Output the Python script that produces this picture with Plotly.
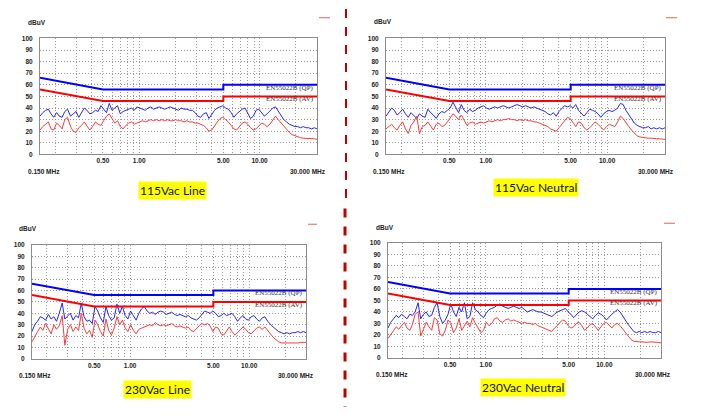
import plotly.graph_objects as go

W, H = 708, 416

# ---------------- data ----------------
freq_mhz = [0.150, 0.158, 0.167, 0.176, 0.185, 0.195, 0.206, 0.217, 0.229, 0.241,
            0.254, 0.269, 0.283, 0.299, 0.315, 0.332, 0.350, 0.369, 0.389, 0.410,
            0.433, 0.456, 0.481, 0.507, 0.535, 0.564, 0.595, 0.627, 0.661, 0.697,
            0.735, 0.775, 0.818, 0.862, 0.909, 0.958, 1.010, 1.065, 1.123, 1.184,
            1.249, 1.317, 1.388, 1.464, 1.543, 1.628, 1.716, 1.810, 1.908, 2.012,
            2.121, 2.237, 2.358, 2.487, 2.622, 2.765, 2.915, 3.074, 3.241, 3.418,
            3.604, 3.800, 4.007, 4.225, 4.455, 4.697, 4.953, 5.222, 5.506, 5.806,
            6.122, 6.455, 6.806, 7.177, 7.567, 7.979, 8.413, 8.871, 9.354, 9.863,
            10.40, 10.97, 11.56, 12.19, 12.86, 13.56, 14.29, 15.07, 15.89, 16.76,
            17.67, 18.63, 19.64, 20.71, 21.84, 23.03, 24.28, 25.60, 26.99, 28.46,
            30.00]

limit_freq = [0.15, 0.5, 5.0, 5.0, 30.0]
qp_limit = [66, 56, 56, 60, 60]
av_limit = [56, 46, 46, 50, 50]

x_grid_vals = [0.2, 0.3, 0.4, 0.5, 0.6, 0.7, 0.8, 0.9, 1, 2, 3, 4, 5, 6, 7, 8, 9, 10, 20]
x_tick_text = ["", "", "", "0.50", "", "", "", "", "1.00", "", "", "", "5.00", "", "", "", "", "10.00", ""]
y_tick_vals = [0, 10, 20, 30, 40, 50, 60, 70, 80, 90, 100]

panel_titles = ["115Vac Line", "115Vac Neutral", "230Vac Line", "230Vac Neutral"]

peak_115_line = [33, 36, 38, 39, 35, 32, 36, 33, 32, 37, 39, 33, 35, 37, 32, 36, 40, 38, 35, 36,
                 38, 37, 42, 39, 36, 44, 38, 40, 42, 35, 37, 38, 39, 40, 38, 41, 40, 39, 38, 40,
                 41, 39, 40, 41, 40, 39, 40, 41, 40, 39, 38, 40, 39, 39, 38, 38, 36, 33, 32, 35,
                 36, 31, 35, 38, 40, 41, 42, 40, 39, 36, 32, 35, 37, 39, 40, 35, 31, 33, 38, 39,
                 36, 33, 35, 38, 40, 41, 37, 33, 30, 28, 26, 25, 24, 24, 23, 24, 23, 23, 22, 23, 22]
avg_115_line = [21, 24, 26, 28, 22, 21, 27, 25, 22, 30, 32, 24, 20, 19, 23, 25, 28, 24, 21, 24,
                28, 26, 25, 29, 33, 35, 31, 27, 29, 24, 22, 25, 27, 28, 26, 27, 28, 29, 28, 29,
                30, 29, 30, 29, 30, 29, 30, 29, 29, 30, 29, 29, 28, 29, 28, 28, 27, 27, 26, 25,
                23, 20, 21, 25, 28, 31, 32, 30, 28, 25, 22, 21, 24, 27, 28, 26, 23, 21, 22, 25,
                27, 26, 24, 26, 30, 33, 30, 27, 24, 21, 19, 17, 16, 15, 14.5, 14, 14, 14, 13.5, 13.5, 13]

peak_115_neutral = [33, 37, 40, 38, 34, 36, 39, 35, 32, 36, 34, 31, 35, 33, 32, 39, 36, 34, 31, 35,
                    37, 36, 38, 40, 45, 40, 36, 43, 38, 36, 39, 37, 38, 40, 41, 42, 40, 39, 40, 41,
                    40, 41, 42, 41, 40, 41, 42, 43, 42, 41, 42, 41, 40, 41, 40, 39, 38, 37, 35, 34,
                    36, 33, 37, 40, 42, 41, 42, 40, 43, 38, 35, 33, 36, 39, 38, 37, 35, 32, 35, 37,
                    38, 37, 38, 40, 44, 43, 38, 34, 30, 27, 25, 24, 23, 23, 24, 22, 23, 22, 23, 22, 23]
avg_115_neutral = [22, 24, 26, 23, 21, 25, 28, 22, 18, 25, 28, 33, 18, 24, 25, 28, 24, 21, 26, 27,
                   24, 25, 28, 31, 35, 33, 30, 34, 29, 25, 27, 28, 26, 27, 28, 27, 28, 29, 28, 29,
                   30, 29, 30, 30, 31, 30, 30, 29, 30, 29, 30, 29, 29, 28, 28, 27, 26, 25, 24, 22,
                   21, 20, 23, 26, 30, 32, 31, 27, 24, 28, 27, 23, 21, 23, 26, 28, 26, 23, 21, 24,
                   26, 25, 24, 28, 33, 31, 27, 24, 21, 18, 16, 15, 14.5, 14, 14, 14, 13.5, 13.5, 13.5, 13, 13]

peak_230_line = [24, 30, 33, 37, 36, 34, 39, 35, 37, 33, 40, 49, 35, 38, 40, 34, 38, 36, 49, 37,
                 33, 34, 31, 46, 42, 36, 32, 46, 38, 34, 36, 48, 40, 46, 38, 35, 42, 38, 34, 40,
                 44, 46, 42, 40, 41, 39, 41, 42, 41, 39, 40, 41, 39, 38, 39, 38, 37, 38, 36, 35,
                 34, 36, 39, 42, 41, 40, 42, 40, 37, 38, 40, 38, 39, 40, 37, 33, 36, 38, 35, 34,
                 37, 38, 35, 33, 36, 37, 33, 30, 28, 26, 24, 23, 22, 23, 22, 23, 23, 24, 23, 24, 23]
avg_230_line = [15, 20, 24, 28, 25, 31, 27, 22, 30, 26, 29, 38, 12, 26, 30, 24, 28, 25, 40, 27,
                22, 25, 19, 34, 30, 24, 20, 35, 25, 21, 27, 37, 30, 34, 27, 24, 30, 25, 22, 26,
                27, 28, 29, 30, 29, 32, 30, 29, 30, 29, 30, 31, 29, 28, 29, 28, 27, 28, 25, 24,
                27, 29, 31, 30, 31, 29, 24, 28, 27, 22, 21, 25, 28, 24, 21, 23, 26, 28, 26, 23,
                22, 25, 27, 28, 26, 28, 25, 22, 19, 17, 15, 14, 14, 13.5, 13.5, 14, 14, 14, 14.5, 14.5, 14.5]

peak_230_neutral = [26, 31, 34, 37, 35, 38, 36, 34, 38, 37, 40, 48, 34, 38, 40, 36, 37, 44, 48, 36,
                    30, 33, 38, 47, 40, 36, 44, 40, 48, 34, 36, 48, 42, 40, 37, 35, 39, 42, 43, 44,
                    46, 47, 45, 44, 43, 44, 45, 44, 43, 44, 42, 40, 41, 42, 41, 40, 40, 39, 38, 37,
                    36, 38, 40, 41, 42, 43, 40, 38, 35, 38, 40, 41, 40, 38, 36, 34, 37, 39, 38, 36,
                    33, 36, 38, 40, 42, 40, 36, 33, 29, 26, 23, 22, 23, 22, 23, 22, 23, 22, 22, 23, 22]
avg_230_neutral = [17, 20, 24, 27, 25, 28, 31, 26, 24, 29, 38, 40, 19, 25, 31, 27, 24, 35, 33, 21,
                   19, 24, 33, 30, 22, 26, 34, 24, 28, 32, 27, 35, 30, 26, 22, 24, 31, 28, 30, 34,
                   35, 32, 31, 33, 34, 32, 33, 32, 31, 30, 31, 30, 30, 29, 30, 28, 27, 26, 25, 24,
                   23, 26, 28, 31, 33, 32, 28, 26, 27, 30, 31, 28, 24, 26, 29, 30, 27, 24, 27, 30,
                   31, 28, 26, 29, 30, 28, 25, 22, 19, 16, 14.5, 14, 14, 14, 13.5, 13.5, 14, 14, 13.5, 13.5, 13]

peak_series = [peak_115_line, peak_115_neutral, peak_230_line, peak_230_neutral]
avg_series = [avg_115_line, avg_115_neutral, avg_230_line, avg_230_neutral]

# ---------------- layout geometry (pixels) ----------------
panels = [
    dict(box=(40, 317, 35, 153), title_c=(172.5, 189.5), dbuv=(26, 19), fmin=(26, 170), fmax=(328, 170), mark=(319, 330, 14)),
    dict(box=(386, 665, 35, 153), title_c=(536, 187), dbuv=(372, 17.5), fmin=(371, 170), fmax=(676, 170), mark=(666, 677, 14)),
    dict(box=(32, 306, 245, 361), title_c=(157, 392), dbuv=(17, 228.7), fmin=(17, 378), fmax=(316, 378), mark=(308, 317, 224)),
    dict(box=(388, 661, 243, 360), title_c=(523, 390.5), dbuv=(374, 227), fmin=(374, 377), fmax=(673, 377), mark=(664, 675, 223)),
]

def px(x):
    return x / W

def py(y):
    return 1 - y / H

BLUE = "#0000ff"
RED = "#ff0000"
GRID = "#9a9a9a"
FRAME = "#8c8c8c"
TICKFONT = dict(family="Liberation Sans", size=6.5, color="#222222", weight="bold")

fig = go.Figure()
annotations = []
shapes = []

for i, p in enumerate(panels):
    n = i + 1
    xa = "x" if n == 1 else f"x{n}"
    ya = "y" if n == 1 else f"y{n}"
    x0, x1, y0, y1 = p["box"]

    fig.add_trace(go.Scatter(x=freq_mhz, y=peak_series[i], mode="lines", xaxis=xa, yaxis=ya,
                             line=dict(color="#2626ff", width=1), hoverinfo="skip", showlegend=False))
    fig.add_trace(go.Scatter(x=freq_mhz, y=avg_series[i], mode="lines", xaxis=xa, yaxis=ya,
                             line=dict(color="#ff3a3a", width=1), hoverinfo="skip", showlegend=False))
    fig.add_trace(go.Scatter(x=limit_freq, y=qp_limit, mode="lines", xaxis=xa, yaxis=ya,
                             line=dict(color=BLUE, width=2), hoverinfo="skip", showlegend=False))
    fig.add_trace(go.Scatter(x=limit_freq, y=av_limit, mode="lines", xaxis=xa, yaxis=ya,
                             line=dict(color=RED, width=2), hoverinfo="skip", showlegend=False))

    fig.layout["xaxis" if n == 1 else f"xaxis{n}"] = dict(
        type="log", range=[-0.8239, 1.4771], domain=[px(x0), px(x1)], anchor=ya,
        tickmode="array", tickvals=x_grid_vals, ticktext=x_tick_text,
        showgrid=True, gridcolor=GRID, griddash="1px,2px", gridwidth=1,
        showline=True, mirror=True, linecolor=FRAME, linewidth=1,
        ticks="", tickfont=TICKFONT, zeroline=False, fixedrange=True,
    )
    fig.layout["yaxis" if n == 1 else f"yaxis{n}"] = dict(
        range=[0, 100], domain=[py(y1), py(y0)], anchor=xa,
        tickmode="array", tickvals=y_tick_vals,
        showgrid=True, gridcolor=GRID, griddash="1px,2px", gridwidth=1,
        showline=True, mirror=True, linecolor=FRAME, linewidth=1,
        ticks="", tickfont=TICKFONT, zeroline=False, fixedrange=True,
        ticklabelstandoff=5,
    )

    # limit labels
    for yv, txt in [(57.5, "EN55022B (QP)"), (47.5, "EN55022B (AV)")]:
        annotations.append(dict(x=1.4771, y=yv, xref=xa, yref=ya, text=txt, showarrow=False,
                                xanchor="right", yanchor="middle", xshift=-1,
                                font=dict(family="Liberation Serif", size=7, color="#333333")))
    # unit and frequency end labels
    annotations.append(dict(x=px(p["dbuv"][0]), y=py(p["dbuv"][1]), xref="paper", yref="paper",
                            text="dBuV", showarrow=False, xanchor="left", yanchor="middle", font=TICKFONT))
    annotations.append(dict(x=px(p["fmin"][0]), y=py(p["fmin"][1]), xref="paper", yref="paper",
                            text="0.150 MHz", showarrow=False, xanchor="left", yanchor="middle", font=TICKFONT))
    annotations.append(dict(x=px(p["fmax"][0]), y=py(p["fmax"][1]), xref="paper", yref="paper",
                            text="30.000 MHz", showarrow=False, xanchor="right", yanchor="middle", font=TICKFONT))
    # highlighted caption
    annotations.append(dict(x=px(p["title_c"][0]), y=py(p["title_c"][1]), xref="paper", yref="paper",
                            text=panel_titles[i], showarrow=False, xanchor="center", yanchor="middle",
                            bgcolor="#ffff00", borderpad=1,
                            font=dict(family="Lato", size=12, color="#111111")))
    # tiny red marker at top-right
    mx0, mx1, my = p["mark"]
    shapes.append(dict(type="line", xref="paper", yref="paper", x0=px(mx0), x1=px(mx1), y0=py(my), y1=py(my),
                       line=dict(color="#e86060", width=1)))

# red dashed divider
shapes.append(dict(type="line", xref="paper", yref="paper", x0=px(346), x1=px(346), y0=py(5), y1=py(200),
                   line=dict(color="#c00000", width=2, dash="dash")))
shapes.append(dict(type="line", xref="paper", yref="paper", x0=px(345), x1=px(345), y0=py(208), y1=py(410),
                   line=dict(color="#c00000", width=3, dash="dash")))

fig.update_layout(
    width=W, height=H, margin=dict(l=0, r=0, t=0, b=0),
    paper_bgcolor="white", plot_bgcolor="white",
    annotations=annotations, shapes=shapes, showlegend=False,
)

fig.write_html("out.html", config={"displayModeBar": False},
               post_script="document.body.style.margin='0';document.body.style.padding='0';")
